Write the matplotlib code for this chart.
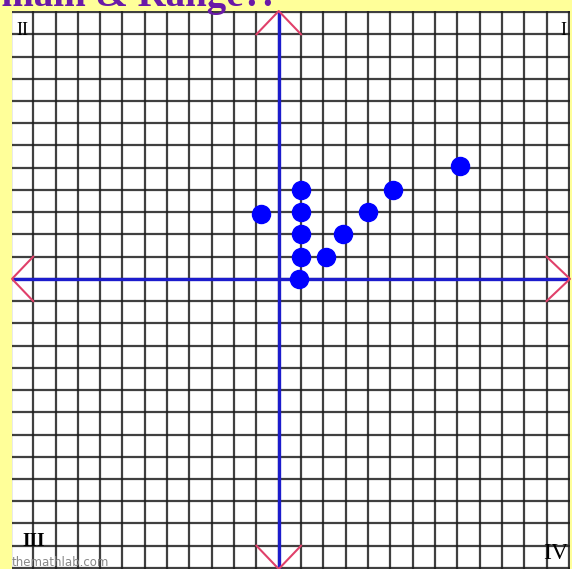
import matplotlib
matplotlib.use("Agg")
import matplotlib.pyplot as plt

# points (grid units)
xs = [-0.8, 1, 1, 1, 1, 0.9, 2.1, 2.9, 4, 5.1, 8.1]
ys = [2.9, 4, 3, 2, 1, 0, 1, 2, 3, 4, 5.1]

x_lo, x_hi = -11.95, 13.05
y_lo, y_hi = -13.05, 12.05

fig = plt.figure(figsize=(5.72, 5.69), dpi=100, facecolor='#ffff99')
ax = fig.add_axes([12/572, 0, 558/572, 558/569])
ax.set_facecolor('white')
ax.set_xlim(x_lo, x_hi)
ax.set_ylim(y_lo, y_hi)
ax.set_xticks([])
ax.set_yticks([])
for s in ax.spines.values():
    s.set_visible(False)

# grid
for gx in range(-12, 14):
    ax.axvline(gx, color='#1e1e1e', lw=1.6, alpha=0.85, zorder=1)
for gy in range(-13, 13):
    ax.axhline(gy, color='#1e1e1e', lw=1.6, alpha=0.85, zorder=1)

# axes
ax.axvline(0, color='#1c1ccc', lw=2.4, zorder=2)
ax.axhline(0, color='#1c1ccc', lw=2.4, zorder=2)

# arrow heads
pink = '#e0406a'
ax.plot([-1, 0, 1], [11, y_hi, 11], color=pink, lw=1.5, zorder=3, clip_on=False)
ax.plot([-1, 0, 1], [-12, y_lo, -12], color=pink, lw=1.5, zorder=3, clip_on=False)
ax.plot([-11, x_lo, -11], [1, 0, -1], color=pink, lw=1.5, zorder=3, clip_on=False)
ax.plot([12, x_hi, 12], [1, 0, -1], color=pink, lw=1.5, zorder=3, clip_on=False)

# points
ax.plot(xs, ys, 'o', color='#0000ff', ms=13, zorder=4)

# quadrant labels
ax.text(-11.75, 11.55, 'II', family='Liberation Serif', fontsize=13,
        ha='left', va='top', zorder=5)
ax.text(12.9, 11.55, 'I', family='Liberation Serif', fontsize=13,
        ha='right', va='top', zorder=5)
ax.text(-11.5, -11.8, 'III', family='Liberation Serif', fontsize=14,
        fontweight='bold', ha='left', va='center', zorder=5)
ax.text(12.95, -12.35, 'IV', family='Liberation Serif', fontsize=17,
        ha='right', va='center', zorder=5)
ax.text(-11.95, -12.75, 'themathlab.com', color='#888888', fontsize=8.5,
        ha='left', va='center', zorder=5)

# title cut off at top
fig.text(-46/572, 1 - 6/569, 'Domain & Range?.', family='Liberation Serif',
         fontweight='bold', fontsize=28, color='#6a1aa8', ha='left', va='baseline')

fig.savefig('out.png', dpi=100, facecolor=fig.get_facecolor())
